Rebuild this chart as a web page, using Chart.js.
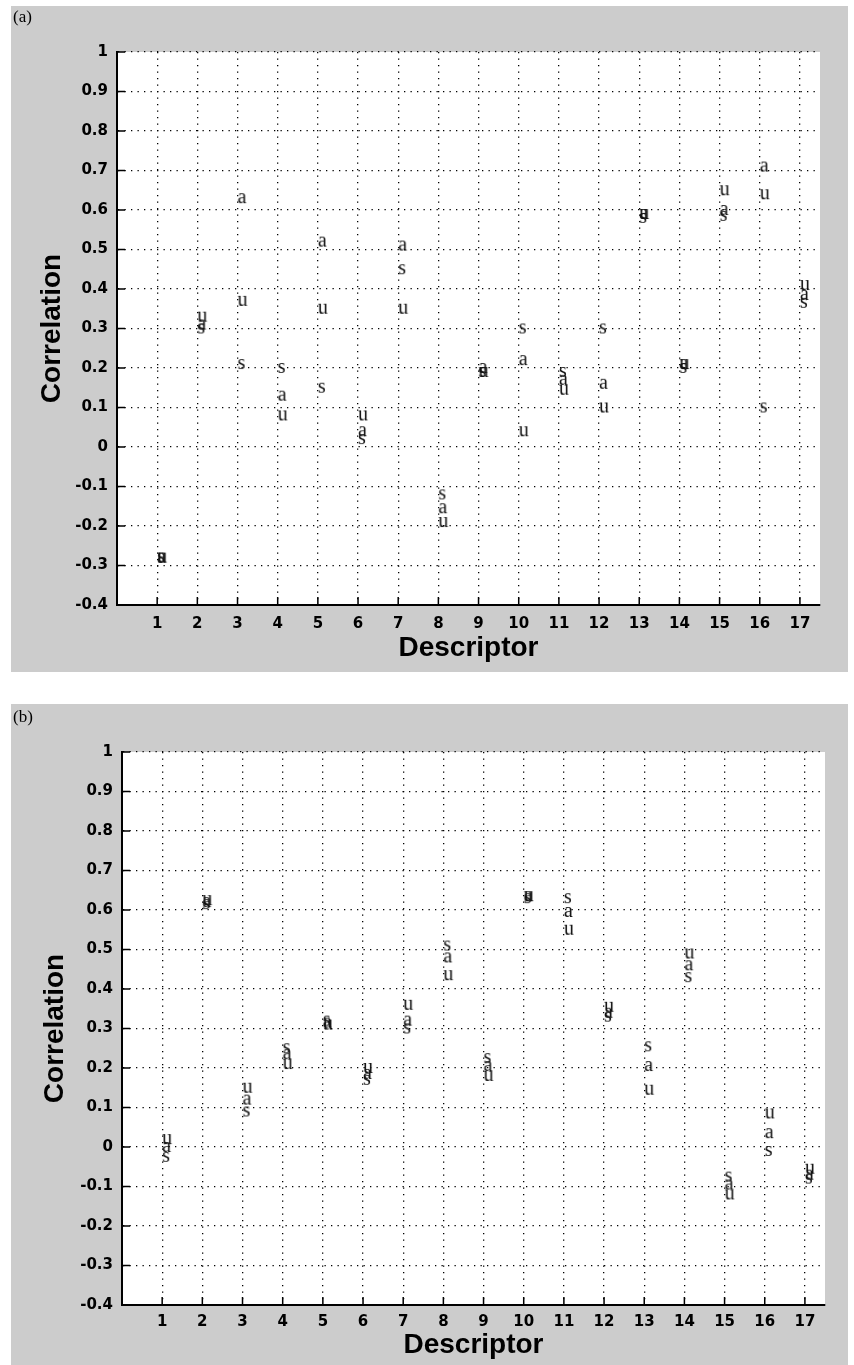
<!DOCTYPE html>
<html>
<head>
<meta charset="utf-8">
<title>Correlation per descriptor</title>
<script src="https://cdn.jsdelivr.net/npm/chart.js@4.4.1/dist/chart.umd.min.js"></script>
<style>
  body { margin: 0; background: #fff; width: 854px; height: 1365px; position: relative; }
  .panel { position: absolute; left: 11px; width: 837px; background: #cccccc; }
  #panelA { top: 6px; height: 666px; }
  #panelB { top: 704px; height: 661px; }
  .panel canvas { position: absolute; left: 0; top: 0; }
  .tag { position: absolute; left: 2px; font: 17px "Liberation Serif", "Times New Roman", serif; color: #000; }
</style>
</head>
<body>
<div class="panel" id="panelA">
  <canvas id="chartA" width="837" height="666"></canvas>
  <div class="tag" style="top:1px">(a)</div>
</div>
<div class="panel" id="panelB">
  <canvas id="chartB" width="837" height="661"></canvas>
  <div class="tag" style="top:3px">(b)</div>
</div>
<script>
// categories and axis ticks
const descriptors = [1, 2, 3, 4, 5, 6, 7, 8, 9, 10, 11, 12, 13, 14, 15, 16, 17];
const xTicks = [1, 2, 3, 4, 5, 6, 7, 8, 9, 10, 11, 12, 13, 14, 15, 16, 17];
const yTicks = [-0.4, -0.3, -0.2, -0.1, 0, 0.1, 0.2, 0.3, 0.4, 0.5, 0.6, 0.7, 0.8, 0.9, 1];

// panel (a) - one value per descriptor for each letter
const aValuesA = [-0.28, 0.31, 0.63, 0.13, 0.52, 0.04, 0.51, -0.155, 0.20, 0.22, 0.17, 0.16, 0.59, 0.21, 0.60, 0.71, 0.385];
const sValuesA = [-0.28, 0.30, 0.21, 0.20, 0.15, 0.02, 0.45, -0.12, 0.19, 0.30, 0.19, 0.30, 0.58, 0.20, 0.585, 0.10, 0.365];
const uValuesA = [-0.28, 0.33, 0.37, 0.08, 0.35, 0.08, 0.35, -0.19, 0.19, 0.04, 0.145, 0.10, 0.59, 0.21, 0.65, 0.64, 0.41];

// panel (b)
const aValuesB = [0.0, 0.62, 0.12, 0.235, 0.315, 0.185, 0.32, 0.48, 0.205, 0.635, 0.595, 0.34, 0.205, 0.46, -0.095, 0.035, -0.07];
const sValuesB = [-0.025, 0.615, 0.09, 0.25, 0.32, 0.17, 0.30, 0.51, 0.225, 0.63, 0.63, 0.33, 0.255, 0.43, -0.075, -0.01, -0.08];
const uValuesB = [0.02, 0.625, 0.15, 0.21, 0.31, 0.20, 0.36, 0.435, 0.18, 0.635, 0.55, 0.355, 0.145, 0.49, -0.12, 0.085, -0.055];

// letter used as marker: left edge sits on the data x, letter centred on the data y
function makeGlyph(ch) {
    const c = document.createElement('canvas');
    c.width = 28;
    c.height = 28;
    const g = c.getContext('2d');
    g.font = '20px "Liberation Serif", "Times New Roman", serif';
    g.fillStyle = '#111';
    g.textAlign = 'left';
    g.textBaseline = 'alphabetic';
    g.fillText(ch, 14, 18.5);
    return c;
}
const glyphs = { a: makeGlyph('a'), s: makeGlyph('s'), u: makeGlyph('u') };

// white plot box + matlab style inward ticks
const plotFrame = {
    id: 'plotFrame',
    beforeDraw(chart) {
        const { ctx, chartArea: c } = chart;
        ctx.save();
        ctx.fillStyle = '#fff';
        ctx.fillRect(c.left, c.top, c.right - c.left, c.bottom - c.top);
        ctx.restore();
    },
    afterDraw(chart) {
        const { ctx, chartArea: c, scales: { x, y } } = chart;
        ctx.save();
        ctx.strokeStyle = '#000';
        ctx.lineWidth = 1.5;
        ctx.beginPath();
        xTicks.forEach(v => {
            const px = x.getPixelForValue(v);
            ctx.moveTo(px, c.bottom);
            ctx.lineTo(px, c.bottom - 8);
        });
        yTicks.forEach(v => {
            const py = y.getPixelForValue(v);
            ctx.moveTo(c.left, py);
            ctx.lineTo(c.left + 8, py);
        });
        ctx.stroke();
        ctx.restore();
    }
};

const tickFont = { family: '"DejaVu Sans", Arial, sans-serif', size: 15, weight: 'bold' };
const titleFont = { family: '"Liberation Sans", Arial, sans-serif', size: 28, weight: 'bold' };

function buildChart(canvasId, aVals, sVals, uVals, frame) {
    const points = vals => descriptors.map((d, i) => ({ x: d, y: vals[i] }));
    const gridOpts = { color: '#000', lineWidth: 1.3, drawTicks: false };
    const borderOpts = { display: true, color: '#000', width: 2, dash: [1.3, 5.2] };

    return new Chart(document.getElementById(canvasId), {
        type: 'scatter',
        data: {
            datasets: [
                { label: 'a', data: points(aVals), pointStyle: glyphs.a, pointRadius: 4 },
                { label: 's', data: points(sVals), pointStyle: glyphs.s, pointRadius: 4 },
                { label: 'u', data: points(uVals), pointStyle: glyphs.u, pointRadius: 4 }
            ]
        },
        options: {
            responsive: false,
            animation: false,
            events: [],
            layout: { padding: { left: 0, top: frame.top, right: frame.right, bottom: 0 } },
            plugins: {
                legend: { display: false },
                tooltip: { enabled: false }
            },
            scales: {
                x: {
                    type: 'linear',
                    min: 0,
                    max: 17.5,
                    afterBuildTicks: s => { s.ticks = xTicks.map(value => ({ value })); },
                    afterFit: s => { s.height = frame.bottom; },
                    grid: gridOpts,
                    border: borderOpts,
                    ticks: { color: '#000', font: tickFont, padding: frame.xTickPad, maxRotation: 0 },
                    title: { display: true, text: 'Descriptor', color: '#000', font: titleFont, padding: { top: 0, bottom: frame.xTitlePad } }
                },
                y: {
                    type: 'linear',
                    min: -0.4,
                    max: 1,
                    afterBuildTicks: s => { s.ticks = yTicks.map(value => ({ value })); },
                    afterFit: s => { s.width = frame.left; },
                    grid: gridOpts,
                    border: borderOpts,
                    ticks: {
                        color: '#000',
                        font: tickFont,
                        padding: 9,
                        callback: v => String(Math.round(v * 10) / 10)
                    },
                    title: { display: true, text: 'Correlation', color: '#000', font: titleFont, padding: { top: frame.yTitlePad, bottom: 0 } }
                }
            }
        },
        plugins: [plotFrame]
    });
}

buildChart('chartA', aValuesA, sValuesA, uValuesA,
    { left: 106, top: 46, right: 28, bottom: 67, xTickPad: 10, xTitlePad: 7, yTitlePad: 24 });
buildChart('chartB', aValuesB, sValuesB, uValuesB,
    { left: 111, top: 48, right: 23, bottom: 60, xTickPad: 8, xTitlePad: 3, yTitlePad: 27 });
</script>
</body>
</html>
